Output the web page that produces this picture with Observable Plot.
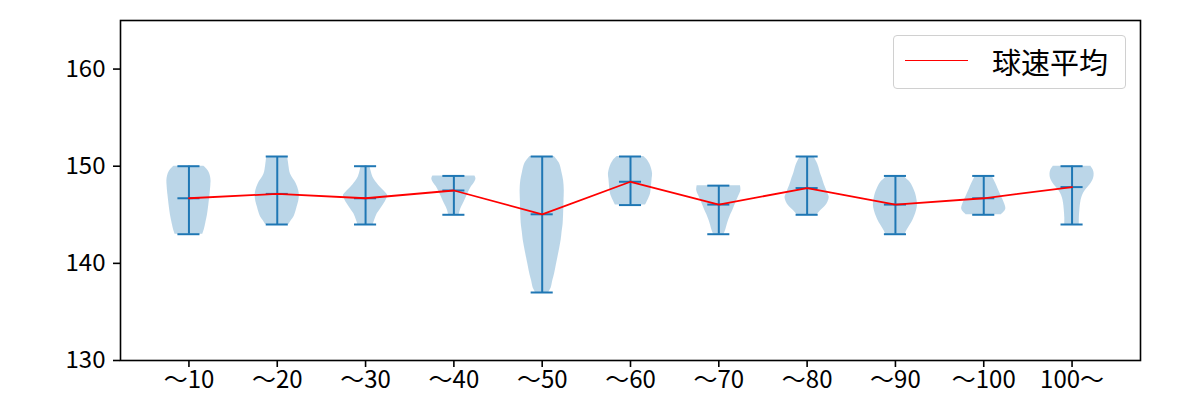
<!DOCTYPE html>
<html>
<head>
<meta charset="utf-8">
<script src="https://cdn.jsdelivr.net/npm/d3@7"></script>
<script src="https://cdn.jsdelivr.net/npm/@observablehq/plot@0.6"></script>
<style>
  body { margin: 0; background: white; }
  #wrap { position: relative; width: 1200px; height: 400px; font-family: "Noto Sans CJK JP", sans-serif; }
  #legend { position: absolute; left: 893px; top: 35px; width: 233px; height: 54px; border: 1px solid #d0d0d0; border-radius: 4px; background: rgba(255,255,255,0.8); box-sizing: border-box; }
  #legend .sw { position: absolute; left: 11px; top: 24px; width: 63px; height: 0; border-top: 1.8px solid red; }
  #legend .tx { position: absolute; left: 98px; top: 6px; font-size: 29px; line-height: 38px; color: #000; white-space: nowrap; }
</style>
</head>
<body>
<div id="wrap">
  <div id="chart"></div>
  <div id="legend"><div class="sw"></div><div class="tx">球速平均</div></div>
</div>
<script>
const categories = ["～10","～20","～30","～40","～50","～60","～70","～80","～90","～100","100～"];
const minSpeed  = [143, 144, 144, 145, 137, 146, 143, 145, 143, 145, 144];
const maxSpeed  = [150, 151, 150, 149, 151, 151, 148, 151, 149, 149, 150];
const meanSpeed = [146.7, 147.15, 146.7, 147.5, 145.05, 148.4, 146.05, 147.75, 146.05, 146.7, 147.85];
const yTicks = [130, 140, 150, 160];

// violin outlines: speed levels and relative half-widths
const violinSpeeds = [
  [150, 149.5, 149, 148.5, 148, 147, 146, 145, 144, 143.5, 143],
  [151, 150.5, 150, 149.2, 148.2, 147.5, 147, 146.5, 145.8, 145.3, 144.8, 144.4, 144],
  [150, 149.5, 148.9, 148.3, 147.8, 147.3, 147, 146.6, 146.1, 145.6, 145.1, 144.5, 144],
  [149, 148.7, 148.3, 147.9, 147.4, 146.9, 146.3, 145.8, 145.4, 145],
  [151, 150.3, 149.3, 148.5, 147.5, 146.6, 145.8, 144.1, 143.2, 142.4, 141.5, 140.6, 139.7, 138.9, 138.2, 137.5, 137],
  [151, 150.6, 150.2, 149.7, 149.2, 148.7, 148.2, 147.7, 147.2, 146.8, 146.5, 146],
  [148, 147.5, 147, 146.5, 146, 145.5, 145, 144.4, 143.9, 143.4, 143],
  [151, 150.5, 149.9, 149.3, 148.8, 148.3, 147.8, 147.3, 146.8, 146.3, 145.9, 145.4, 145],
  [149, 148.7, 148.3, 147.7, 147.2, 146.6, 146, 145.4, 144.8, 144.2, 143.7, 143.3, 143],
  [149, 148.6, 148.2, 147.6, 147.1, 146.6, 146.1, 145.6, 145.3, 145],
  [150, 149.6, 149.2, 148.7, 148.3, 147.9, 147.5, 147, 146.5, 145.9, 145.4, 144.7, 144]
];
const violinWidths = [
  [0.68, 0.88, 0.97, 1.0, 0.99, 0.95, 0.9, 0.84, 0.75, 0.7, 0.63],
  [0.47, 0.5, 0.53, 0.6, 0.86, 0.97, 1.0, 0.98, 0.9, 0.84, 0.76, 0.64, 0.53],
  [0.2, 0.25, 0.33, 0.5, 0.68, 0.9, 1.0, 0.95, 0.83, 0.68, 0.53, 0.42, 0.35],
  [0.95, 1.0, 0.93, 0.8, 0.68, 0.58, 0.46, 0.35, 0.28, 0.24],
  [0.55, 0.78, 0.9, 0.97, 1.0, 0.99, 0.98, 0.95, 0.9, 0.86, 0.79, 0.71, 0.63, 0.56, 0.48, 0.41, 0.3],
  [0.6, 0.78, 0.88, 0.96, 1.0, 0.98, 0.96, 0.94, 0.91, 0.85, 0.79, 0.68],
  [0.98, 1.0, 0.92, 0.82, 0.73, 0.64, 0.54, 0.44, 0.37, 0.31, 0.24],
  [0.3, 0.42, 0.53, 0.6, 0.68, 0.75, 0.83, 0.92, 1.0, 0.94, 0.83, 0.6, 0.45],
  [0.38, 0.5, 0.68, 0.82, 0.91, 0.97, 1.0, 0.95, 0.86, 0.74, 0.6, 0.5, 0.45],
  [0.38, 0.46, 0.55, 0.66, 0.76, 0.86, 0.95, 1.0, 0.93, 0.8],
  [0.85, 0.96, 1.0, 0.97, 0.88, 0.75, 0.6, 0.48, 0.41, 0.37, 0.35, 0.33, 0.33]
];

const halfWidth = 0.25, capHalf = 0.125;
const blue = "#1f77b4";

const shapeRows = [];
categories.forEach((c, i) => {
  violinSpeeds[i].forEach((v, j) => shapeRows.push({cat: c, pos: i + 1, v, w: violinWidths[i][j]}));
});
const stats = categories.map((c, i) => ({cat: c, pos: i + 1, min: minSpeed[i], max: maxSpeed[i], mean: meanSpeed[i]}));
const caps = stats.flatMap(d => [d.min, d.max, d.mean].map(y => ({pos: d.pos, y})));

const chart = Plot.plot({
  width: 1200,
  height: 400,
  marginLeft: 120,
  marginRight: 60,
  marginTop: 20,
  marginBottom: 40,
  style: {fontFamily: "'Noto Sans CJK JP', sans-serif", fontSize: "24px", color: "#000", background: "white"},
  x: {type: "linear", domain: [0.225, 11.775]},
  y: {domain: [130, 165]},
  marks: [
    Plot.areaX(shapeRows, {
      y: "v",
      x1: d => d.pos - halfWidth * d.w,
      x2: d => d.pos + halfWidth * d.w,
      z: "cat",
      fill: blue,
      fillOpacity: 0.3,
      curve: "catmull-rom"
    }),
    Plot.ruleX(stats, {x: "pos", y1: "min", y2: "max", stroke: blue, strokeWidth: 2}),
    Plot.ruleY(caps, {y: "y", x1: d => d.pos - capHalf, x2: d => d.pos + capHalf, stroke: blue, strokeWidth: 2}),
    Plot.line(stats, {x: "pos", y: "mean", stroke: "red", strokeWidth: 1.8}),
    Plot.axisY({ticks: yTicks, tickSize: 7, tickPadding: 8, strokeWidth: 1.6, label: null}),
    Plot.axisX({ticks: d3.range(1, categories.length + 1), tickFormat: i => categories[i - 1], tickSize: 7, tickPadding: 3, strokeWidth: 1.6, label: null}),
    Plot.frame({stroke: "#000", strokeWidth: 1.6})
  ]
});
document.getElementById("chart").appendChild(chart);
</script>
</body>
</html>
